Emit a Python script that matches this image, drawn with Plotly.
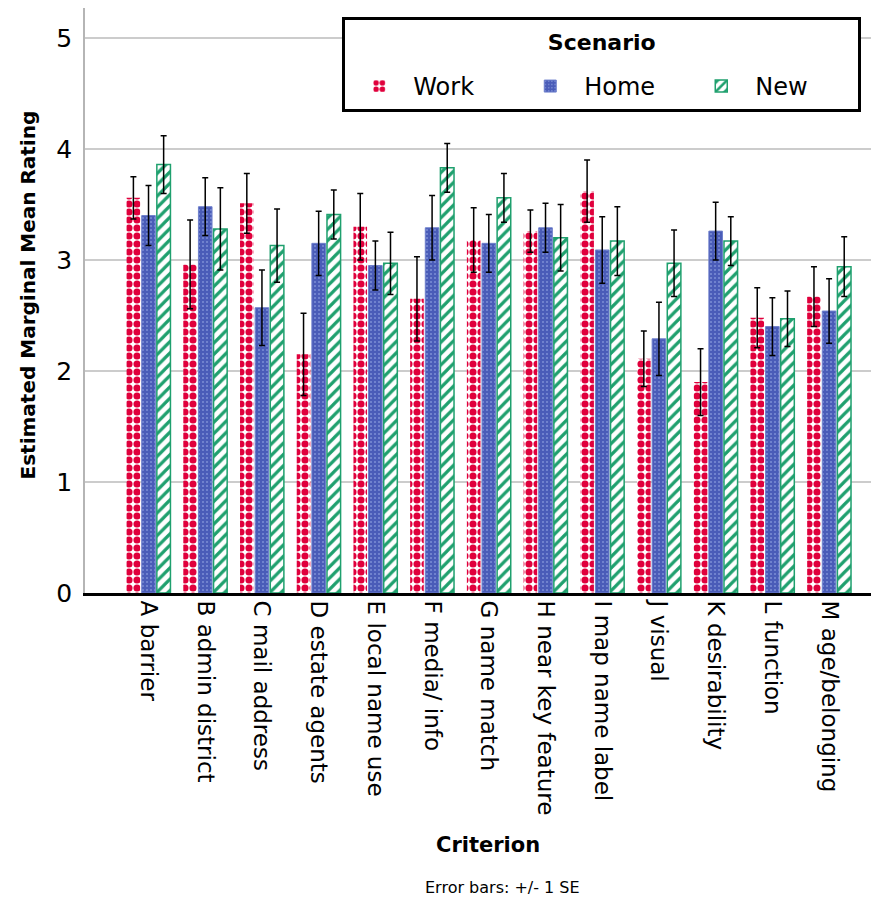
import plotly.graph_objects as go

categories = ["A barrier", "B admin district", "C mail address", "D estate agents",
              "E local name use", "F media/ info", "G name match", "H near key feature",
              "I map name label", "J visual", "K desirability", "L function", "M age/belonging"]

work = [3.56, 2.96, 3.51, 2.15, 3.30, 2.65, 3.18, 3.26, 3.62, 2.11, 1.90, 2.48, 2.67]
work_se = [0.19, 0.40, 0.27, 0.37, 0.30, 0.38, 0.29, 0.19, 0.28, 0.25, 0.30, 0.27, 0.27]
home = [3.40, 3.48, 2.57, 3.15, 2.95, 3.29, 3.15, 3.29, 3.09, 2.29, 3.26, 2.40, 2.54]
home_se = [0.27, 0.26, 0.34, 0.29, 0.22, 0.29, 0.26, 0.22, 0.30, 0.33, 0.26, 0.26, 0.29]
new = [3.86, 3.28, 3.13, 3.41, 2.97, 3.83, 3.56, 3.20, 3.17, 2.97, 3.17, 2.47, 2.94]
new_se = [0.26, 0.37, 0.33, 0.22, 0.28, 0.22, 0.22, 0.30, 0.31, 0.30, 0.22, 0.25, 0.27]

FONT = "DejaVu Sans"
RED = "#e0003c"
BLUE = "#4a5cb8"
GREEN = "#1fa06e"

err = dict(type="data", visible=True, color="black", thickness=1.5, width=3)

fig = go.Figure()
fig.add_trace(go.Bar(
    name="Work", x=categories, y=work,
    error_y=dict(array=work_se, **err),
    marker=dict(color=RED, line=dict(width=0),
                pattern=dict(shape=".", fgcolor=RED, bgcolor="white",
                             size=8, solidity=0.62, fillmode="replace")),
))
fig.add_trace(go.Bar(
    name="Home", x=categories, y=home,
    error_y=dict(array=home_se, **err),
    marker=dict(color=BLUE, line=dict(width=1, color="#6f80cc"),
                pattern=dict(shape=".", fgcolor="#7d8fd6", bgcolor=BLUE,
                             size=4, solidity=0.2, fillmode="replace")),
))
fig.add_trace(go.Bar(
    name="New", x=categories, y=new,
    error_y=dict(array=new_se, **err),
    marker=dict(color=GREEN, line=dict(width=1.5, color=GREEN),
                pattern=dict(shape="/", fgcolor=GREEN, bgcolor="white",
                             size=8, solidity=0.4, fillmode="replace")),
))

fig.update_layout(
    width=871, height=892,
    margin=dict(l=77, r=0, t=0, b=307),
    paper_bgcolor="white", plot_bgcolor="white",
    barmode="group", bargap=0.2, bargroupgap=0.1,
    font=dict(family=FONT, color="black"),
    showlegend=True,
    legend=dict(
        orientation="h", x=0.324, y=0.985, xanchor="left", yanchor="top",
        bordercolor="black", borderwidth=3, bgcolor="white",
        font=dict(family=FONT, size=24, color="black"),
        title=dict(text="<sup><span style='font-size:22px'><b>Scenario</b></span></sup>",
                   side="top center",
                   font=dict(family=FONT, size=34, color="black")),
        itemwidth=58, entrywidth=98, traceorder="normal",
    ),
    xaxis=dict(
        type="category", range=[-1.12, 12.88],
        tickangle=90, tickfont=dict(family=FONT, size=23, color="black"),
        showline=True, linecolor="black", linewidth=3,
        showgrid=False, ticks="", fixedrange=True,
    ),
    yaxis=dict(
        range=[0, 5.27], tickvals=[0, 1, 2, 3, 4, 5],
        tickfont=dict(family=FONT, size=25, color="black"),
        showline=True, linecolor="#b5b5b5", linewidth=1.5,
        showgrid=True, gridcolor="#cccccc", gridwidth=1.5,
        zeroline=False, ticks="", ticklabelstandoff=6,
    ),
    annotations=[
        dict(text="<b>Estimated Marginal Mean Rating</b>", xref="paper", yref="paper",
             x=-0.072, y=0.51, textangle=-90, showarrow=False,
             xanchor="center", yanchor="middle",
             font=dict(family=FONT, size=20, color="black")),
        dict(text="<b>Criterion</b>", xref="paper", yref="paper",
             x=0.508, y=-0.43, showarrow=False, xanchor="center", yanchor="middle",
             font=dict(family=FONT, size=21, color="black")),
        dict(text="Error bars: +/- 1 SE", xref="paper", yref="paper",
             x=0.526, y=-0.503, showarrow=False, xanchor="center", yanchor="middle",
             font=dict(family=FONT, size=16, color="black")),
    ],
)

fig.write_html("out.html")
